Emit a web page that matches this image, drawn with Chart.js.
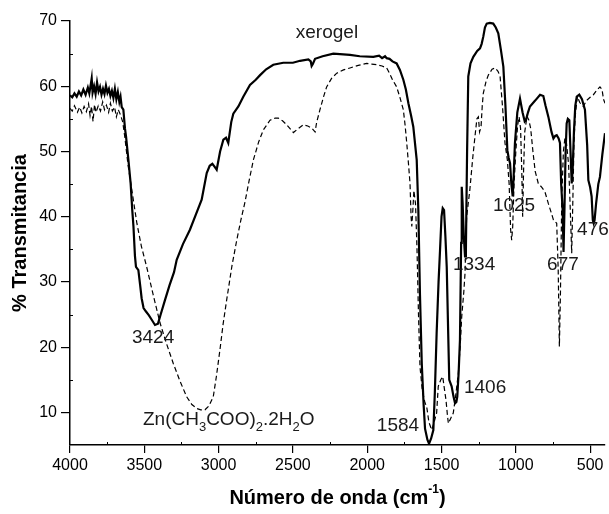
<!DOCTYPE html>
<html>
<head>
<meta charset="utf-8">
<script src="https://cdn.jsdelivr.net/npm/chart.js@4.4.0/dist/chart.umd.min.js"></script>
<style>
  html, body { margin: 0; padding: 0; background: #fff; }
  #wrap { width: 609px; height: 514px; }
</style>
</head>
<body>
<div id="wrap"><canvas id="ir-chart" width="609" height="514"></canvas></div>
<script>
// Xerogel spectrum (solid line)
const wnXerogel = [4000,3985,3970,3955,3940,3925,3910,3895,3880,3870,3860,3854,3848,3838,3828,3818,3808,3798,3788,3778,3768,3758,3748,3738,3728,3718,3708,3698,3688,3678,3668,3660,3652,3641,3630,3623,3607,3592,3581,3573,3563,3556,3540,3528,3518,3505,3490,3470,3450,3428,3408,3390,3361,3330,3300,3282,3240,3193,3150,3114,3080,3060,3042,3025,3013,2990,2968,2950,2935,2915,2901,2867,2834,2789,2750,2721,2680,2632,2565,2500,2452,2396,2380,2374,2366,2351,2300,2228,2116,2050,1959,1920,1900,1880,1869,1850,1830,1802,1780,1757,1740,1723,1705,1690,1667,1656,1645,1633,1620,1611,1595,1584,1570,1555,1545,1533,1520,1510,1500,1492,1483,1474,1465,1455,1448,1432,1420,1409,1400,1394,1385,1376,1368,1364,1358,1350,1342,1336,1328,1320,1305,1286,1260,1241,1230,1219,1208,1196,1175,1152,1135,1118,1100,1084,1070,1057,1048,1039,1030,1021,1015,1006,990,972,955,940,932,918,905,870,837,815,800,781,760,747,735,725,712,703,695,685,679,672,665,658,650,640,632,624,618,609,600,590,573,555,535,520,512,500,490,482,476,470,460,445,434,418,400];
const tXerogel = [58.6,58.3,58.9,58.4,59.2,58.6,59.5,58.7,59.8,58.9,60.3,61.2,59.0,60.0,58.8,60.6,59.2,59.9,58.7,59.6,58.8,60.1,59.0,59.6,58.5,59.3,58.2,59.6,58.0,59.1,57.6,58.4,56.8,56.4,53.5,52.3,48.7,45.1,41.0,38.5,34.0,32.3,31.8,29.5,27.5,26.0,25.5,24.9,24.2,23.4,23.6,25.0,27.2,29.5,31.5,33.4,35.8,38.0,40.5,42.6,46.7,47.8,48.1,47.6,47.2,50.0,51.8,52.1,51.3,54.5,55.8,56.9,58.4,60.2,61.0,61.7,62.6,63.3,63.6,63.6,63.9,64.1,63.8,63.1,63.4,64.2,64.6,65.0,64.8,64.6,64.5,64.7,64.3,64.6,64.3,64.2,63.8,63.5,62.5,61.0,59.5,57.4,55.5,53.8,48.7,41.0,28.0,17.5,11.0,7.5,5.8,5.2,6.0,7.3,13.0,22.1,30.0,34.9,40.0,41.3,41.0,37.0,32.3,22.0,15.0,14.0,12.5,11.4,11.6,12.4,16.0,21.1,36.0,44.6,42.0,37.0,33.9,35.0,50.0,61.5,63.5,64.5,65.4,65.8,66.5,67.6,69.0,69.6,69.7,69.6,69.0,68.1,65.5,63.0,57.0,50.2,49.0,48.2,45.0,43.1,46.0,51.3,56.0,58.1,56.0,54.6,54.8,56.0,56.9,57.8,58.7,58.5,57.0,55.3,53.0,52.0,52.4,52.5,52.0,51.3,45.0,41.0,34.6,42.0,50.0,54.3,55.0,54.8,50.0,45.1,47.0,53.0,57.0,58.4,58.7,58.0,56.4,51.0,45.6,44.5,43.1,39.5,39.0,39.5,42.0,45.0,46.1,49.5,52.8];

// Zn(CH3COO)2.2H2O spectrum (dashed line)
const wnZn = [4000,3985,3970,3950,3935,3920,3905,3890,3875,3865,3855,3845,3835,3825,3810,3795,3780,3768,3755,3740,3728,3715,3700,3688,3675,3660,3645,3630,3610,3590,3574,3550,3520,3484,3440,3394,3350,3305,3260,3215,3180,3147,3120,3092,3065,3036,3015,2991,2970,2946,2910,2878,2850,2822,2795,2766,2730,2699,2654,2620,2598,2570,2542,2497,2470,2430,2400,2374,2351,2340,2318,2295,2273,2240,2205,2160,2116,2060,2004,1970,1936,1900,1869,1850,1830,1802,1780,1757,1745,1734,1722,1712,1705,1700,1693,1686,1675,1665,1655,1645,1630,1612,1600,1585,1566,1550,1533,1522,1505,1492,1480,1470,1460,1454,1440,1421,1405,1387,1375,1364,1350,1342,1331,1310,1290,1275,1262,1252,1244,1234,1226,1219,1200,1185,1160,1140,1120,1106,1090,1073,1057,1045,1035,1028,1021,1012,1000,988,978,968,960,954,948,940,925,912,900,885,870,849,825,804,781,760,747,725,715,707,700,691,680,670,660,645,635,624,615,609,600,586,570,546,525,500,478,455,434,420,410,400];
const tZn = [56.6,56.2,57.0,56.0,56.8,55.9,56.9,56.1,57.3,55.5,56.9,54.6,57.2,56.0,57.0,56.2,57.6,56.4,57.1,56.0,57.4,56.2,56.8,55.3,56.4,55.6,54.5,52.0,48.0,45.0,42.6,39.0,35.5,32.3,28.0,23.7,20.5,17.5,14.8,12.4,11.2,10.6,10.4,10.4,11.0,12.4,15.5,19.6,23.5,27.2,32.5,36.4,39.5,42.3,45.5,48.7,51.5,53.3,54.8,55.1,55.1,54.7,54.1,52.9,53.4,54.1,53.9,53.6,53.0,54.5,56.4,58.3,59.9,61.2,62.0,62.5,62.8,63.2,63.5,63.4,63.3,63.1,62.8,62.0,61.0,59.9,58.3,56.4,54.0,51.3,48.0,45.1,40.0,38.5,41.0,44.0,42.0,35.0,25.0,17.0,13.5,11.5,10.9,8.5,7.3,8.5,9.9,14.0,15.0,15.5,13.5,11.9,9.5,8.3,9.0,9.9,12.5,16.0,20.0,24.7,28.5,31.3,40.0,44.0,49.0,52.3,55.0,55.3,53.0,53.8,57.0,58.9,60.8,61.7,62.6,62.8,62.3,61.5,57.0,51.3,48.7,45.0,38.0,36.4,38.5,45.0,50.0,54.0,55.3,53.5,47.0,40.0,47.0,53.0,55.4,54.8,53.5,50.0,47.0,45.1,44.5,43.8,42.0,40.5,39.5,39.0,32.0,20.1,28.0,42.6,50.0,52.0,51.5,48.0,42.0,34.4,44.0,51.3,55.5,58.4,57.5,56.9,57.8,58.3,58.7,59.4,59.9,59.5,58.0,57.4];

// Axis ticks
const xTicks = [4000,3500,3000,2500,2000,1500,1000,500];
const xMinor = [3750,3250,2750,2250,1750,1250,750];
const yTicks = [10,20,30,40,50,60,70];
const yMinor = [15,25,35,45,55,65];

// Peak / curve labels (text, wavenumber, transmittance)
const notes = [
  ["xerogel", 2271, 68.2],
  ["3424", 3441, 21.4],
  ["1584", 1793, 7.9],
  ["1406", 1207, 13.7],
  ["1334", 1281, 32.6],
  ["1025", 1012, 41.6],
  ["677", 683, 32.6],
  ["476", 481, 38.0]
];
const znLabelPos = [3509, 8.8];

const FONT = "'Liberation Sans', Arial, sans-serif";

function toPoints(xs, ys) {
  return xs.map((x, i) => ({ x: x, y: ys[i] }));
}

// Minor ticks, titles and peak labels
const decorPlugin = {
  id: "decor",
  afterDraw(chart) {
    const ctx = chart.ctx;
    const xs = chart.scales.x, ys = chart.scales.y;
    const area = chart.chartArea;
    ctx.save();
    ctx.strokeStyle = "#000";
    ctx.lineWidth = 1;
    xMinor.forEach(v => {
      const px = Math.round(xs.getPixelForValue(v)) + 0.5;
      ctx.beginPath();
      ctx.moveTo(px, area.bottom);
      ctx.lineTo(px, area.bottom - 3);
      ctx.stroke();
    });
    yMinor.forEach(v => {
      const py = Math.round(ys.getPixelForValue(v)) + 0.5;
      ctx.beginPath();
      ctx.moveTo(area.left, py);
      ctx.lineTo(area.left + 3, py);
      ctx.stroke();
    });

    // peak labels
    ctx.fillStyle = "#1a1a1a";
    ctx.font = "19px " + FONT;
    ctx.textAlign = "center";
    ctx.textBaseline = "middle";
    notes.forEach(n => {
      ctx.fillText(n[0], xs.getPixelForValue(n[1]), ys.getPixelForValue(n[2]));
    });

    // Zn(CH3COO)2.2H2O with subscripts
    let zx = xs.getPixelForValue(znLabelPos[0]);
    const zy = ys.getPixelForValue(znLabelPos[1]);
    const parts = [["Zn(CH", 0], ["3", 1], ["COO)", 0], ["2", 1], [".2H", 0], ["2", 1], ["O", 0]];
    ctx.textAlign = "left";
    parts.forEach(p => {
      ctx.font = (p[1] ? "13px " : "19px ") + FONT;
      ctx.fillText(p[0], zx, zy + (p[1] ? 7 : 0));
      zx += ctx.measureText(p[0]).width;
    });

    // axis titles
    ctx.font = "bold 20px " + FONT;
    ctx.fillStyle = "#000";
    const t1 = "Número de onda (cm", sup = "-1", t2 = ")";
    ctx.font = "bold 20px " + FONT;
    const w1 = ctx.measureText(t1).width, w2 = ctx.measureText(t2).width;
    ctx.font = "bold 12px " + FONT;
    const ws = ctx.measureText(sup).width;
    let tx = (area.left + area.right) / 2 - (w1 + ws + w2) / 2;
    const ty = 498;
    ctx.font = "bold 20px " + FONT;
    ctx.fillText(t1, tx, ty);
    tx += w1;
    ctx.font = "bold 12px " + FONT;
    ctx.fillText(sup, tx, ty - 8);
    tx += ws;
    ctx.font = "bold 20px " + FONT;
    ctx.fillText(t2, tx, ty);

    ctx.translate(20, (area.top + area.bottom) / 2);
    ctx.rotate(-Math.PI / 2);
    ctx.textAlign = "center";
    ctx.fillText("% Transmitancia", 0, 0);
    ctx.restore();
  }
};

const ctx = document.getElementById("ir-chart").getContext("2d");
const irChart = new Chart(ctx, {
  type: "line",
  data: {
    datasets: [
      {
        label: "xerogel",
        data: toPoints(wnXerogel, tXerogel),
        borderColor: "#000",
        borderWidth: 2.2,
        pointRadius: 0,
        tension: 0,
        fill: false
      },
      {
        label: "Zn(CH3COO)2.2H2O",
        data: toPoints(wnZn, tZn),
        borderColor: "#000",
        borderWidth: 1.2,
        borderDash: [5, 3],
        pointRadius: 0,
        tension: 0,
        fill: false
      }
    ]
  },
  options: {
    responsive: false,
    animation: false,
    devicePixelRatio: 1,
    layout: { padding: { left: 0, right: 4, top: 21, bottom: 0 } },
    plugins: { legend: { display: false }, tooltip: { enabled: false } },
    scales: {
      x: {
        type: "linear",
        reverse: true,
        min: 400,
        max: 4000,
        afterBuildTicks: s => { s.ticks = xTicks.map(v => ({ value: v })); },
        afterFit: s => { s.height = 69; },
        ticks: {
          color: "#000",
          font: { family: FONT, size: 16 },
          padding: 3,
          maxRotation: 0,
          autoSkip: false,
          callback: v => String(v)
        },
        grid: { drawOnChartArea: false, drawTicks: true, tickLength: 8, color: "#000", lineWidth: 1.2 },
        border: { display: true, color: "#000", width: 1.5 }
      },
      y: {
        min: 5,
        max: 70,
        afterBuildTicks: s => { s.ticks = yTicks.map(v => ({ value: v })); },
        afterFit: s => { s.width = 70; },
        ticks: {
          color: "#000",
          font: { family: FONT, size: 16 },
          padding: 4,
          callback: v => String(v)
        },
        grid: { drawOnChartArea: false, drawTicks: true, tickLength: 9, color: "#000", lineWidth: 1.2 },
        border: { display: true, color: "#000", width: 1.5 }
      }
    }
  },
  plugins: [decorPlugin]
});
</script>
</body>
</html>
